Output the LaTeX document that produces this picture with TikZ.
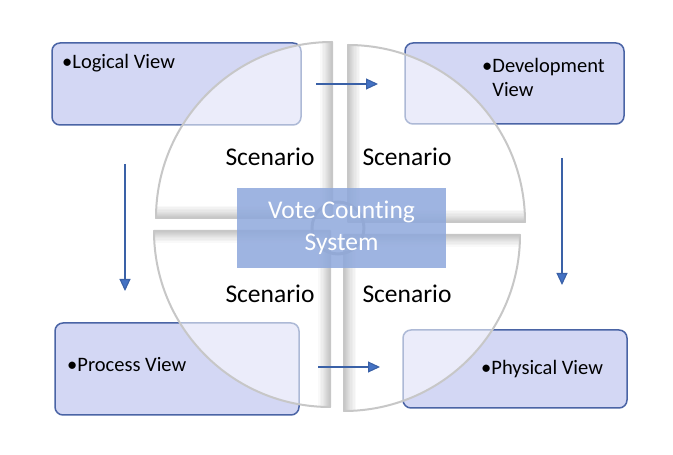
\documentclass[tikz,border=0pt]{standalone}
\usepackage{fontspec}
\setmainfont[Ligatures=NoCommon]{Carlito}
\usetikzlibrary{arrows.meta}
\definecolor{boxfill}{RGB}{211,215,244}
\definecolor{boxline}{RGB}{74,100,165}
\definecolor{arrowblue}{RGB}{68,114,196}
\definecolor{centerfill}{RGB}{142,168,220}
\tikzset{
  viewbox/.style={draw=boxline, fill=boxfill, line width=1.5pt, rounded corners=8pt},
  quad/.style={fill=white, fill opacity=0.55},
  quadedge/.style={draw=black!22, line width=2pt, line join=round},
  quadshade/.style={draw=black, draw opacity=0.022},
  flow/.style={draw=arrowblue!85!black, line width=1.1pt, -{Triangle[width=11pt,length=12pt,fill=arrowblue]}},
  viewtext/.style={font=\fontsize{20.5}{24}\selectfont, text=black, inner sep=0pt, align=left},
  scen/.style={font=\fontsize{25.5}{30}\selectfont, text=black, inner sep=0pt},
}
\newcommand{\quadrant}[4]{%
  % #1 corner, #2 start angle, #3 end angle, #4 radius
  \path[quad] #1 -- ++(#2:#4) arc[start angle=#2, end angle=#3, radius=#4] -- cycle;
  \begin{scope}
    \clip #1 -- ++(#2:#4) arc[start angle=#2, end angle=#3, radius=#4] -- cycle;
    \foreach \w in {24,21,18,15,12,10,8,6,4,2}
      \draw[quadshade, line width=\w pt] #1 ++(#2:#4) -- #1 -- ++(#3:#4);
  \end{scope}
  \draw[quadedge] #1 -- ++(#2:#4) arc[start angle=#2, end angle=#3, radius=#4] -- cycle;
}
\begin{document}
\begin{tikzpicture}[x=1pt,y=1pt]
\useasboundingbox (0,0) rectangle (673,455);
% view boxes
\draw[viewbox] (52,412) rectangle (301,330);
\draw[viewbox] (405,412) rectangle (624,331);
\draw[viewbox] (55,132) rectangle (299,40);
\draw[viewbox] (403,125) rectangle (627,47);
\node[viewtext, anchor=west] (logical) at (62,392) {•Logical View};
\node[viewtext, anchor=west] (devel) at (482,378) {•Development\\\hphantom{•}View};
\node[viewtext, anchor=west] (process) at (67,90) {•Process View};
\node[viewtext, anchor=west] (physical) at (481,86) {•Physical View};
% quadrants
\quadrant{(332,237)}{180}{90}{176}
\quadrant{(348,233)}{0}{90}{177}
\quadrant{(330,224)}{180}{270}{176}
\quadrant{(344,220)}{0}{-90}{176}
% hub ring
\draw[black!30, line width=3pt] (338,227) circle[radius=26];
% arrows
\coordinate (a1s) at (316,371); \coordinate (a1e) at (378,371);
\coordinate (a2s) at (125,291); \coordinate (a2e) at (125,164);
\coordinate (a3s) at (562,297); \coordinate (a3e) at (562,170);
\coordinate (a4s) at (318,88);  \coordinate (a4e) at (380,88);
\draw[flow] (a1s) -- (a1e);
\draw[flow] (a2s) -- (a2e);
\draw[flow] (a3s) -- (a3e);
\draw[flow] (a4s) -- (a4e);
% scenario labels
\node[scen] (s1) at (270,298) {Scenario};
\node[scen] (s2) at (407,298) {Scenario};
\node[scen] (s3) at (270,161) {Scenario};
\node[scen] (s4) at (407,161) {Scenario};
% center box
\fill[centerfill, fill opacity=0.85] (237,267) rectangle (446,187);
\node[font=\fontsize{25.5}{32}\selectfont, text=white, align=center, inner sep=0pt] (center) at (341.5,227) {Vote Counting\\System};
\end{tikzpicture}
\end{document}
